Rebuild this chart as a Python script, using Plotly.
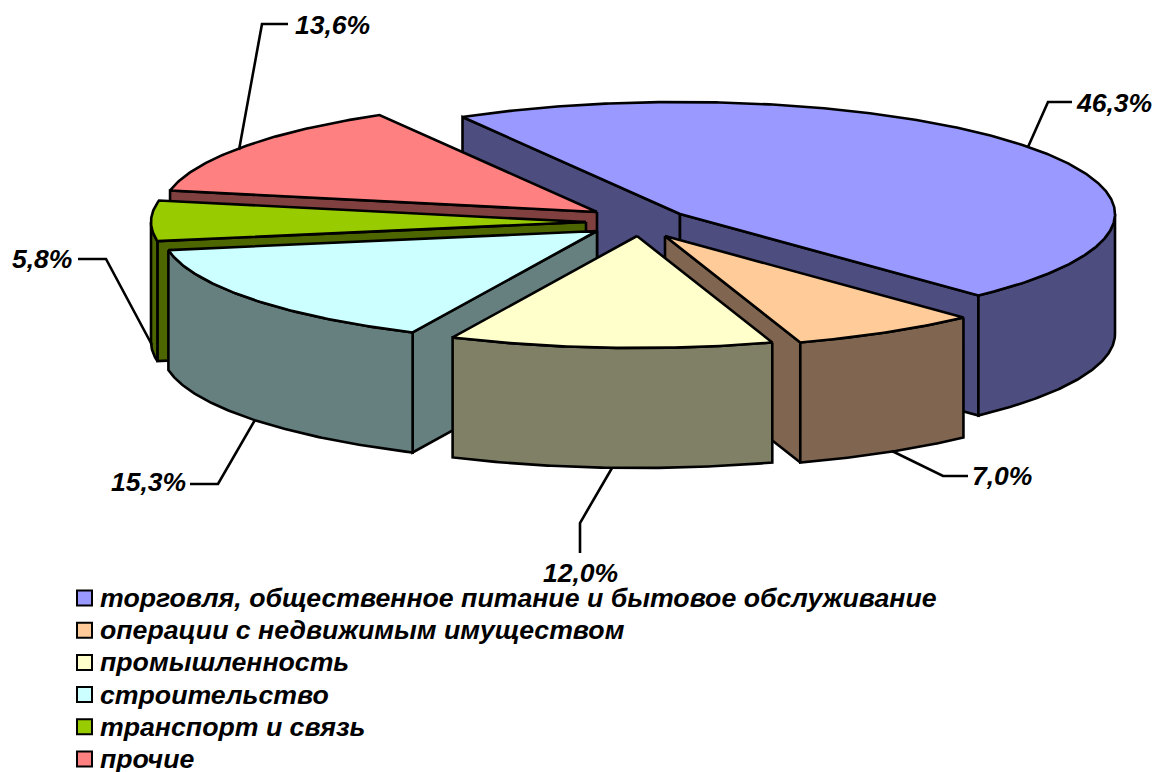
import numpy as np
import plotly.graph_objects as go

categories = ["торговля, общественное питание и бытовое обслуживание",
              "операции с недвижимым имуществом", "промышленность",
              "строительство", "транспорт и связь", "прочие"]
shares = [46.3, 7.0, 12.0, 15.3, 5.8, 13.6]
top_colors = ["#9999FF", "#FFCC99", "#FFFFCC", "#CCFFFF", "#99CC00", "#FF8080"]
wall_colors = ["#4D4D80", "#806650", "#808066", "#668080", "#4D6600", "#804040"]
labels = ["46,3%", "7,0%", "12,0%", "15,3%", "5,8%", "13,6%"]

# projection of the tilted pie
CX, CY, RX, RY, DEPTH = 636, 222, 435, 112, 120
START = -30.0
# how far each slice is pulled out of the pie, in pixels
PULL_X = [44, 29, 1, -39, -50, -39]
PULL_Y = [-8, 14, 14, 9, 0, -10]
W, H = 1154, 772
LINE = 2.6
FONT = "Liberation Sans"


def pt(apex, deg):
    a = np.radians(deg)
    return apex[0] + RX * np.sin(a), apex[1] - RY * np.cos(a)


def arc(apex, a0, a1):
    return pt(apex, np.linspace(a0, a1, max(2, int(abs(a1 - a0)) * 2)))


def poly(fig, x, y, color):
    x, y = list(x), list(y)
    fig.add_trace(go.Scatter(x=x + [x[0]], y=y + [y[0]], mode="lines", fill="toself",
                             fillcolor=color, line=dict(color="black", width=LINE),
                             hoverinfo="skip", showlegend=False))


fig = go.Figure()

angles = []
a = START
for s in shares:
    angles.append((a, a + s * 3.6))
    a += s * 3.6

apexes = [(CX + dx, CY + dy) for dx, dy in zip(PULL_X, PULL_Y)]

# painter's order, back to front
for i in [0, 5, 4, 3, 1, 2]:
    a0, a1 = angles[i]
    apex = apexes[i]
    for edge, visible in ((a0, np.sin(np.radians(a0)) < 0), (a1, np.sin(np.radians(a1)) > 0)):
        if visible:
            ex, ey = pt(apex, edge)
            poly(fig, [apex[0], ex, ex, apex[0]],
                 [apex[1], ey, ey + DEPTH, apex[1] + DEPTH], wall_colors[i])
    lo, hi = max(a0, 90), min(a1, 270)
    if hi > lo:
        ax, ay = arc(apex, lo, hi)
        poly(fig, list(ax) + list(ax[::-1]), list(ay) + list((ay + DEPTH)[::-1]), wall_colors[i])
    ax, ay = arc(apex, a0, a1)
    poly(fig, [apex[0]] + list(ax), [apex[1]] + list(ay), top_colors[i])

# leader lines and data labels
leaders = [
    ([1028, 1048, 1072], [147, 102, 102], 1076, 103, "left"),
    ([892, 943, 968], [451, 476, 476], 972, 476, "left"),
    ([612, 580, 580], [468, 523, 553], 580, 573, "center"),
    ([255, 218, 190], [420, 484, 484], 186, 482, "right"),
    ([152, 106, 78], [345, 259, 259], 72, 259, "right"),
    ([239, 262, 288], [150, 24, 24], 295, 25, "left"),
]
for (lx, ly, tx, ty, anchor), text in zip(leaders, labels):
    fig.add_trace(go.Scatter(x=lx, y=ly, mode="lines", line=dict(color="black", width=LINE),
                             hoverinfo="skip", showlegend=False))
    fig.add_annotation(x=tx, y=ty, text=f"<b><i>{text}</i></b>", showarrow=False,
                       xanchor=anchor, yanchor="middle", xref="x", yref="y", borderpad=0, borderwidth=0,
                       font=dict(family=FONT, size=26.5, color="black"))

# legend rows
LEG_X, LEG_TEXT_X, LEG_Y0, LEG_DY = 84.5, 99, 598, 32.2
for k, (name, color) in enumerate(zip(categories, top_colors)):
    y = LEG_Y0 + k * LEG_DY
    fig.add_trace(go.Scatter(x=[LEG_X], y=[y], mode="markers", hoverinfo="skip", showlegend=False,
                             marker=dict(symbol="square", size=15, color=color,
                                         line=dict(color="black", width=2))))
    fig.add_annotation(x=LEG_TEXT_X, y=y, text=f"<b><i>{name}</i></b>", showarrow=False,
                       xanchor="left", yanchor="middle", xref="x", yref="y", borderpad=0,
                       font=dict(family=FONT, size=26.7, color="black"))

fig.update_layout(
    width=W, height=H, margin=dict(l=0, r=0, t=0, b=0), showlegend=False,
    paper_bgcolor="white", plot_bgcolor="white",
    xaxis=dict(range=[0, W], visible=False, fixedrange=True),
    yaxis=dict(range=[H, 0], visible=False, fixedrange=True),
)
fig.write_html("out.html", config={"displayModeBar": False},
               post_script="document.body.style.margin='0';")
